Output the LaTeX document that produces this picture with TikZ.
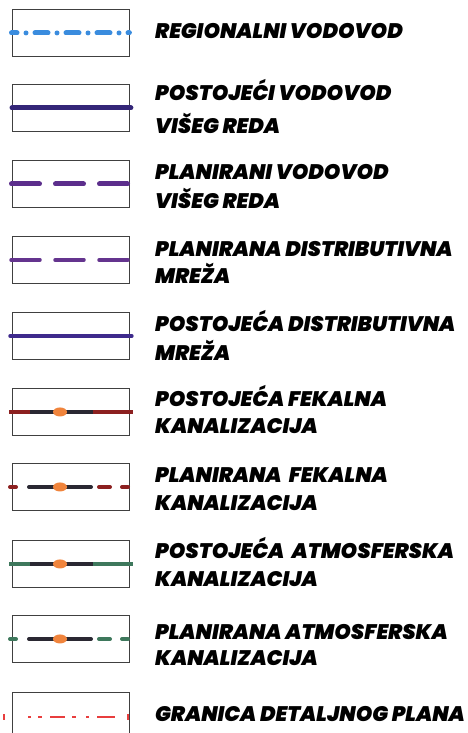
\documentclass[tikz,border=0pt]{standalone}
\usepackage{fontspec}
\usetikzlibrary{shapes.geometric}
\font\heavyfont="Poppins Black Italic" at 21pt
\definecolor{cblue}{RGB}{58,140,222}
\definecolor{cindigo}{RGB}{52,38,120}
\definecolor{cpurple}{RGB}{92,46,140}
\definecolor{cpurple2}{RGB}{100,52,142}
\definecolor{cdblue}{RGB}{62,42,140}
\definecolor{cred}{RGB}{140,32,32}
\definecolor{cdark}{RGB}{42,40,50}
\definecolor{corange}{RGB}{240,132,60}
\definecolor{cgreen}{RGB}{62,120,92}
\definecolor{cline}{RGB}{232,62,62}
\begin{document}
\begin{tikzpicture}[x=1pt,y=-1pt,
  legbox/.style={draw=black!75,line width=0.9pt,minimum width=117pt,minimum height=47pt,inner sep=0pt,anchor=north west},
  lbl/.style={anchor=base west,inner sep=0pt,font=\heavyfont,text=black},
  thick5/.style={line width=5pt,line cap=round},
  thick4/.style={line width=4pt,line cap=round},
  blob/.style={fill=corange,draw=none,ellipse,minimum width=14pt,minimum height=9pt,inner sep=0pt}
]
\useasboundingbox (0,0) rectangle (468,733);
% boxes
\node[legbox] (b1) at (12,9) {};
\node[legbox] (b2) at (12,84) {};
\node[legbox] (b3) at (12,160) {};
\node[legbox] (b4) at (12,236) {};
\node[legbox] (b5) at (12,312) {};
\node[legbox] (b6) at (12,388) {};
\node[legbox] (b7) at (12,463) {};
\node[legbox] (b8) at (12,540) {};
\node[legbox] (b9) at (12,615) {};
\node[legbox] (b10) at (12,692) {};
% 1 regional
\draw[cblue,thick5,dash pattern=on 13pt off 9pt on 0pt off 9pt,dash phase=7.5pt] ([xshift=-0.5pt]b1.west) -- ([xshift=-0.5pt]b1.east);
% 2 existing trunk
\draw[cindigo,thick5] ([xshift=0pt]b2.west) -- ([xshift=1pt]b2.east);
% 3 planned trunk
\draw[cpurple,thick5,dash pattern=on 28pt off 16pt] ([xshift=-0.5pt]b3.west) -- ([xshift=-0.5pt]b3.east);
% 4 planned distribution
\draw[cpurple2,line width=3.5pt,line cap=round,dash pattern=on 29pt off 15pt] ([xshift=-1pt]b4.west) -- ([xshift=0pt]b4.east);
% 5 existing distribution
\draw[cdblue,line width=3.5pt,line cap=round] ([xshift=-2pt]b5.west) -- ([xshift=2pt]b5.east);
% 6 existing fecal
\draw[cred,line width=4pt] ([xshift=-3pt]b6.west) -- ([xshift=3pt]b6.east);
\draw[cdark,line width=4pt] ([xshift=18pt]b6.west) -- ([xshift=81pt]b6.west);
\node[blob] (o6) at ([xshift=48pt]b6.west) {};
% 7 planned fecal
\draw[cred,thick4] ([xshift=-2pt]b7.west) -- ([xshift=4pt]b7.west);
\draw[cdark,thick4] ([xshift=17pt]b7.west) -- ([xshift=79pt]b7.west);
\draw[cred,thick4] ([xshift=87pt]b7.west) -- ([xshift=98pt]b7.west);
\draw[cred,thick4] ([xshift=110pt]b7.west) -- ([xshift=116pt]b7.west);
\node[blob] (o7) at ([xshift=48pt]b7.west) {};
% 8 existing storm
\draw[cgreen,line width=4pt] ([xshift=-3pt]b8.west) -- ([xshift=3pt]b8.east);
\draw[cdark,line width=4pt] ([xshift=18pt]b8.west) -- ([xshift=81pt]b8.west);
\node[blob] (o8) at ([xshift=48pt]b8.west) {};
% 9 planned storm
\draw[cgreen,thick4] ([xshift=-2pt]b9.west) -- ([xshift=4pt]b9.west);
\draw[cdark,thick4] ([xshift=17pt]b9.west) -- ([xshift=79pt]b9.west);
\draw[cgreen,thick4] ([xshift=87pt]b9.west) -- ([xshift=98pt]b9.west);
\draw[cgreen,thick4] ([xshift=110pt]b9.west) -- ([xshift=116pt]b9.west);
\node[blob] (o9) at ([xshift=48pt]b9.west) {};
% 10 plan boundary
\coordinate (c10) at ([yshift=-1pt]b10.west);
\begin{scope}[cline,line width=2pt]
\draw ([xshift=-8pt,yshift=-3pt]c10) -- ([xshift=-8pt,yshift=3pt]c10);
\draw ([xshift=16pt]c10) -- ([xshift=19pt]c10);
\draw ([xshift=26pt]c10) -- ([xshift=30pt]c10);
\draw ([xshift=38pt]c10) -- ([xshift=53pt]c10);
\draw ([xshift=60pt]c10) -- ([xshift=64pt]c10);
\draw ([xshift=74pt]c10) -- ([xshift=77pt]c10);
\draw ([xshift=85pt]c10) -- ([xshift=103pt]c10);
\draw ([xshift=116pt,yshift=-3pt]c10) -- ([xshift=116pt,yshift=3pt]c10);
\end{scope}
% labels
\node[lbl] (t1) at (155,39) {REGIONALNI VODOVOD};
\node[lbl] (t2a) at (155,101) {POSTOJEĆI VODOVOD};
\node[lbl] (t2b) at (155,133) {VIŠEG REDA};
\node[lbl] (t3a) at (155,179) {PLANIRANI VODOVOD};
\node[lbl] (t3b) at (155,208) {VIŠEG REDA};
\node[lbl] (t4a) at (155,256) {PLANIRANA DISTRIBUTIVNA};
\node[lbl] (t4b) at (155,283) {MREŽA};
\node[lbl] (t5a) at (155,331) {POSTOJEĆA DISTRIBUTIVNA};
\node[lbl] (t5b) at (155,360) {MREŽA};
\node[lbl] (t6a) at (155,406) {POSTOJEĆA FEKALNA};
\node[lbl] (t6b) at (155,433) {KANALIZACIJA};
\node[lbl] (t7a) at (155,482) {PLANIRANA \ FEKALNA};
\node[lbl] (t7b) at (155,510) {KANALIZACIJA};
\node[lbl] (t8a) at (155,558) {POSTOJEĆA \ ATMOSFERSKA};
\node[lbl] (t8b) at (155,586) {KANALIZACIJA};
\node[lbl] (t9a) at (155,639) {PLANIRANA ATMOSFERSKA};
\node[lbl] (t9b) at (155,665) {KANALIZACIJA};
\node[lbl] (t10) at (155,721) {GRANICA DETALJNOG PLANA};
\end{tikzpicture}
\end{document}
